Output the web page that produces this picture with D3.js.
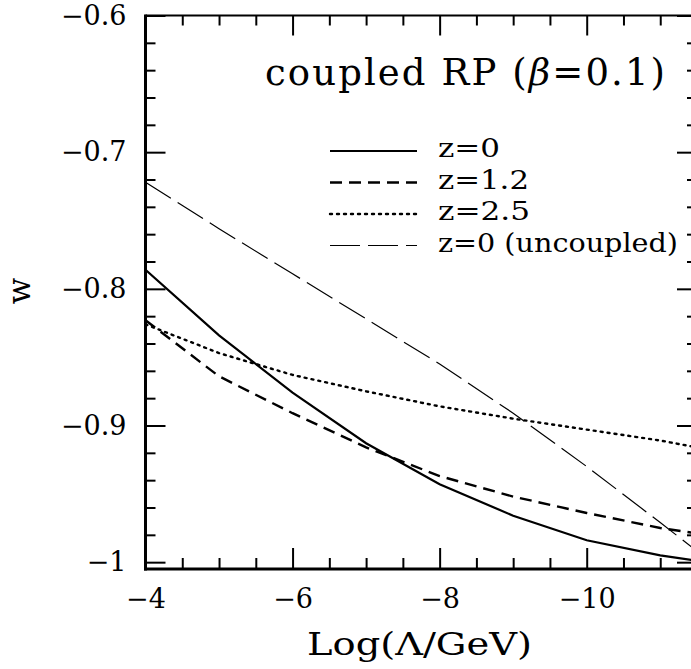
<!DOCTYPE html>
<html>
<head>
<meta charset="utf-8">
<script src="https://cdn.jsdelivr.net/npm/d3@7"></script>
<style>
  html, body { margin: 0; padding: 0; background: #fff; }
  svg { display: block; font-family: "DejaVu Serif", serif; }
</style>
</head>
<body>
<svg id="chart" width="691" height="669"></svg>
<script>
// ---- data ----
const xDomain = [-4, -11.5];
const yDomain = [-1.005, -0.6];
const xTicks = [-4, -6, -8, -10];
const xTickLabels = ["\u22124", "\u22126", "\u22128", "\u221210"];
const yTicks = [-1, -0.9, -0.8, -0.7, -0.6];
const yTickLabels = ["\u22121", "\u22120.9", "\u22120.8", "\u22120.7", "\u22120.6"];

const logLambda = [-4, -5, -6, -7, -8, -9, -10, -11, -11.5];
const wZ0       = [-0.786, -0.834, -0.876, -0.913, -0.943, -0.966, -0.984, -0.995, -0.999];
const wZ12      = [-0.823, -0.864, -0.891, -0.916, -0.937, -0.952, -0.964, -0.975, -0.979];
const wZ25      = [-0.826, -0.847, -0.863, -0.875, -0.886, -0.895, -0.903, -0.911, -0.916];
const wUncoupled= [-0.722, -0.756, -0.789, -0.822, -0.855, -0.891, -0.930, -0.971, -0.992];

const seriesNames = ["z=0", "z=1.2", "z=2.5", "z=0 (uncoupled)"];
const titleParts = ["coupled RP (", "\u03B2", "=0.1)"];
const xTitle = "Log(\u039B/GeV)";
const yTitle = "w";

// ---- layout ----
const pL = 145.5, pR = 697, pT = 15.5, pB = 569;
const svg = d3.select("#chart");

const x = d3.scaleLinear().domain(xDomain).range([pL, pR]);
const y = d3.scaleLinear().domain(yDomain).range([pB, pT]);

const styles = [
  { width: 2.2, dash: null },
  { width: 2.4, dash: "12,7" },
  { width: 2.4, dash: "2,5" },
  { width: 1.2, dash: "30,8" }
];
const seriesVals = [wZ0, wZ12, wZ25, wUncoupled];

svg.append("clipPath").attr("id", "clip")
  .append("rect").attr("x", pL).attr("y", pT)
  .attr("width", pR - pL).attr("height", pB - pT);

const line = d3.line().x(d => x(d[0])).y(d => y(d[1]));
const plot = svg.append("g").attr("clip-path", "url(#clip)");
seriesVals.forEach((vals, i) => {
  plot.append("path")
    .datum(logLambda.map((l, k) => [l, vals[k]]))
    .attr("d", line)
    .attr("fill", "none")
    .attr("stroke", "#000")
    .attr("stroke-width", styles[i].width)
    .attr("stroke-dasharray", styles[i].dash)
    .attr("stroke-linecap", styles[i].dash === "2,5" ? "round" : "butt");
});

// ---- axes ----
const fontTick = 27;
const yMinor = d3.range(-1, -0.599, 0.02).map(v => +v.toFixed(2)).filter(v => yTicks.indexOf(v) < 0);
const xMinor = d3.range(-4, -11.51, -0.5).filter(v => xTicks.indexOf(v) < 0);

function styleAxis(g, w) {
  g.select(".domain").remove();
  g.selectAll(".tick line").attr("stroke", "#000").attr("stroke-width", w);
}

// left
svg.append("g").attr("transform", `translate(${pL},0)`)
  .call(d3.axisLeft(y).tickValues(yTicks).tickSize(-20).tickPadding(19)
    .tickFormat((d, i) => yTickLabels[i]))
  .call(g => { styleAxis(g, 2); g.selectAll("text").attr("font-size", fontTick)
    .attr("font-family", "DejaVu Serif").attr("fill", "#000"); });
svg.append("g").attr("transform", `translate(${pL},0)`)
  .call(d3.axisLeft(y).tickValues(yMinor).tickSize(-10).tickFormat(""))
  .call(g => styleAxis(g, 2));
// right
svg.append("g").attr("transform", `translate(${pR},0)`)
  .call(d3.axisRight(y).tickValues(yTicks).tickSize(-20).tickFormat(""))
  .call(g => styleAxis(g, 2));
svg.append("g").attr("transform", `translate(${pR},0)`)
  .call(d3.axisRight(y).tickValues(yMinor).tickSize(-10).tickFormat(""))
  .call(g => styleAxis(g, 2));
// bottom
svg.append("g").attr("transform", `translate(0,${pB})`)
  .call(d3.axisBottom(x).tickValues(xTicks).tickSize(-21).tickPadding(20)
    .tickFormat((d, i) => xTickLabels[i]))
  .call(g => { styleAxis(g, 2); g.selectAll("text").attr("font-size", fontTick)
    .attr("font-family", "DejaVu Serif").attr("fill", "#000"); });
svg.append("g").attr("transform", `translate(0,${pB})`)
  .call(d3.axisBottom(x).tickValues(xMinor).tickSize(-11).tickFormat(""))
  .call(g => styleAxis(g, 2));
// top
svg.append("g").attr("transform", `translate(0,${pT})`)
  .call(d3.axisTop(x).tickValues(xTicks).tickSize(-20).tickFormat(""))
  .call(g => styleAxis(g, 2));
svg.append("g").attr("transform", `translate(0,${pT})`)
  .call(d3.axisTop(x).tickValues(xMinor).tickSize(-10).tickFormat(""))
  .call(g => styleAxis(g, 2));

// frame
svg.append("line").attr("x1", pL).attr("x2", pL).attr("y1", pT - 1).attr("y2", pB + 1.5)
  .attr("stroke", "#000").attr("stroke-width", 3);
svg.append("line").attr("x1", pL - 1.5).attr("x2", pR).attr("y1", pB).attr("y2", pB)
  .attr("stroke", "#000").attr("stroke-width", 3);
svg.append("line").attr("x1", pL).attr("x2", pR).attr("y1", pT).attr("y2", pT)
  .attr("stroke", "#000").attr("stroke-width", 2);
svg.append("line").attr("x1", pR).attr("x2", pR).attr("y1", pT).attr("y2", pB)
  .attr("stroke", "#000").attr("stroke-width", 2);

// titles
svg.append("text").attr("x", 307).attr("y", 655).attr("font-size", 32)
  .attr("textLength", 225).attr("lengthAdjust", "spacingAndGlyphs").text(xTitle);
svg.append("text").attr("transform", "translate(30,291) rotate(-90)")
  .attr("text-anchor", "middle").attr("font-size", 31).text(yTitle);
const t = svg.append("text").attr("x", 265).attr("y", 85).attr("font-size", 37)
  .attr("xml:space", "preserve")
  .attr("textLength", 400).attr("lengthAdjust", "spacing");
titleParts.forEach((p, i) => t.append("tspan")
  .attr("font-style", i === 1 ? "italic" : "normal").text(p));

// legend
const legY = [157, 188.5, 220, 251.5];
const legW = [62, 91, 92, 240];
const leg = svg.append("g");
seriesNames.forEach((name, i) => {
  leg.append("line").attr("x1", 330).attr("x2", 417)
    .attr("y1", legY[i] - 6).attr("y2", legY[i] - 6)
    .attr("stroke", "#000").attr("stroke-width", styles[i].width)
    .attr("stroke-dasharray", styles[i].dash)
    .attr("stroke-linecap", styles[i].dash === "2,5" ? "round" : "butt");
  leg.append("text").attr("x", 438).attr("y", legY[i]).attr("font-size", 26)
    .attr("xml:space", "preserve")
    .attr("textLength", legW[i]).attr("lengthAdjust", "spacingAndGlyphs").text(name);
});
</script>
</body>
</html>
